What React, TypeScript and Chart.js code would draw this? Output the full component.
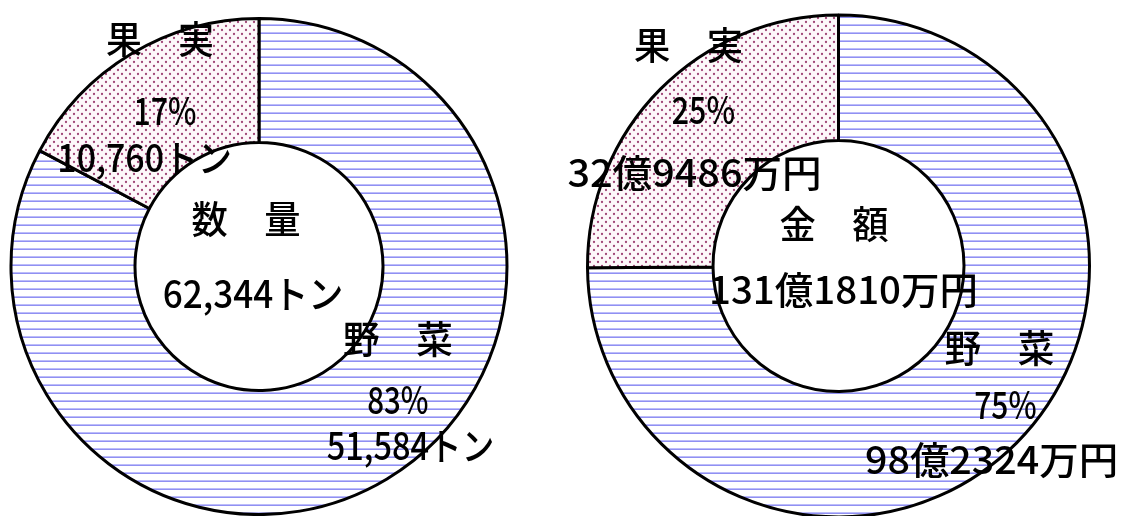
import React, { useEffect, useRef } from "react";
import { Chart, registerables } from "chart.js";

Chart.register(...registerables);

// ---- data ----
const categories = ["野菜", "果実"];
const quantityValues = [51584, 10760]; // トン
const amountValues = [98.2324, 32.9486]; // 億円
const categoryLabels = ["野　菜", "果　実"];
const quantityPercents = ["83%", "17%"];
const quantityAmounts = ["51,584トン", "10,760トン"];
const quantityTitle = "数　量";
const quantityTotal = "62,344トン";
const amountPercents = ["75%", "25%"];
const amountAmounts = ["98億2324万円", "32億9486万円"];
const amountTitle = "金　額";
const amountTotal = "131億1810万円";

const FONT = '500 38px "Noto Sans CJK JP", sans-serif';

function makeStripe(): CanvasPattern | string {
  const c = document.createElement("canvas");
  c.width = 8;
  c.height = 8;
  const g = c.getContext("2d")!;
  g.fillStyle = "#ffffff";
  g.fillRect(0, 0, 8, 8);
  g.fillStyle = "#bcbcfa";
  g.fillRect(0, 0, 8, 1);
  g.fillStyle = "#9090f2";
  g.fillRect(0, 1, 8, 1);
  return g.createPattern(c, "repeat") || "#ccf";
}

function makeDots(): CanvasPattern | string {
  const c = document.createElement("canvas");
  c.width = 8;
  c.height = 8;
  const g = c.getContext("2d")!;
  g.fillStyle = "#fdf8fa";
  g.fillRect(0, 0, 8, 8);
  g.fillStyle = "#a04878";
  g.beginPath();
  g.arc(2, 2, 1.15, 0, Math.PI * 2);
  g.arc(6, 6, 1.15, 0, Math.PI * 2);
  g.fill();
  return g.createPattern(c, "repeat") || "#fcd";
}

// dx, dy: centre of the visible text relative to the doughnut centre; w: visible width
type Lbl = { text: string; dx: number; dy: number; w: number };

function labelPlugin(labels: Lbl[]) {
  return {
    id: "centerLabels",
    afterDraw(chart: any) {
      const meta = chart.getDatasetMeta(0);
      const arc = meta.data[0];
      if (!arc) return;
      const cx = arc.x;
      const cy = arc.y;
      const ctx = chart.ctx as CanvasRenderingContext2D;
      ctx.save();
      ctx.font = FONT;
      ctx.fillStyle = "#000";
      ctx.textAlign = "left";
      ctx.textBaseline = "alphabetic";
      labels.forEach((l) => {
        const m = ctx.measureText(l.text);
        const vis = m.actualBoundingBoxLeft + m.actualBoundingBoxRight;
        const sx = l.w / vis;
        const asc = m.actualBoundingBoxAscent;
        const desc = m.actualBoundingBoxDescent;
        const x = cx + l.dx;
        const y = cy + l.dy;
        ctx.save();
        ctx.translate(x, y + (asc - desc) / 2);
        ctx.scale(sx, 1);
        ctx.fillText(l.text, -(m.actualBoundingBoxRight - m.actualBoundingBoxLeft) / 2, 0);
        ctx.restore();
      });
      ctx.restore();
    },
  };
}

function Donut(props: {
  values: number[];
  labels: Lbl[];
  radius: number;
  padTop: number;
  left: number;
  width: number;
}) {
  const ref = useRef<HTMLCanvasElement>(null);
  useEffect(() => {
    if (!ref.current) return;
    const chart = new Chart(ref.current, {
      type: "doughnut",
      data: {
        labels: categories,
        datasets: [
          {
            data: props.values,
            backgroundColor: [makeStripe(), makeDots()] as any,
            borderColor: "#000000",
            borderWidth: 3,
          },
        ],
      },
      options: {
        animation: false,
        responsive: false,
        events: [],
        radius: props.radius,
        cutout: "50%",
        layout: { padding: { top: props.padTop, bottom: 0, left: 0, right: 0 } },
        plugins: { legend: { display: false }, tooltip: { enabled: false } },
      } as any,
      plugins: [labelPlugin(props.labels)],
    });
    return () => chart.destroy();
  }, []);
  return (
    <canvas
      ref={ref}
      width={props.width}
      height={516}
      style={{ position: "absolute", left: props.left, top: 0, width: props.width, height: 516 }}
    />
  );
}

// left centre ≈ (259, 266.5)
const leftLabels: Lbl[] = [
  { text: categoryLabels[1], dx: -99, dy: -227, w: 106 },
  { text: quantityPercents[1], dx: -93, dy: -156, w: 60 },
  { text: quantityAmounts[1], dx: -114, dy: -106, w: 170 },
  { text: quantityTitle, dx: -13, dy: -48, w: 107 },
  { text: quantityTotal, dx: -6, dy: 30, w: 177 },
  { text: categoryLabels[0], dx: 139, dy: 73, w: 108 },
  { text: quantityPercents[0], dx: 139, dy: 133, w: 60 },
  { text: quantityAmounts[0], dx: 151, dy: 182, w: 165 },
];

// right centre ≈ (838.5, 266)
const rightLabels: Lbl[] = [
  { text: categoryLabels[1], dx: -150, dy: -221, w: 107 },
  { text: amountPercents[1], dx: -135, dy: -156, w: 62 },
  { text: amountAmounts[1], dx: -145, dy: -93, w: 250 },
  { text: amountTitle, dx: -4, dy: -42, w: 108 },
  { text: amountTotal, dx: 5, dy: 24, w: 263 },
  { text: categoryLabels[0], dx: 161, dy: 82, w: 108 },
  { text: amountPercents[0], dx: 167, dy: 139, w: 61 },
  { text: amountAmounts[0], dx: 152, dy: 194, w: 249 },
];

export default function App() {
  return (
    <div
      style={{
        position: "absolute",
        left: 0,
        top: 0,
        width: 1121,
        height: 516,
        overflow: "hidden",
        background: "#fff",
      }}
    >
      <Donut values={quantityValues} labels={leftLabels} radius={248} padTop={17} left={0} width={518} />
      <Donut values={amountValues} labels={rightLabels} radius={251} padTop={16} left={560} width={557} />
    </div>
  );
}
